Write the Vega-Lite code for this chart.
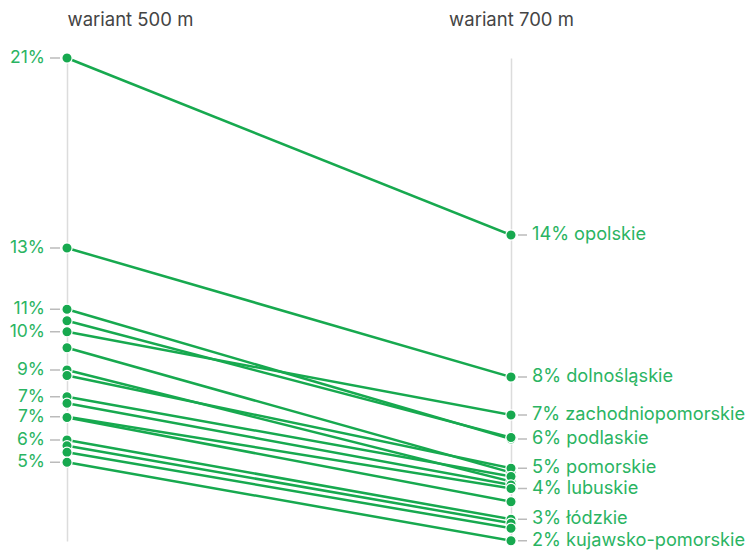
{
  "$schema": "https://vega.github.io/schema/vega-lite/v6.json",
  "width": 444,
  "height": 483,
  "autosize": {"type": "none"},
  "padding": {"left": 67, "top": 58, "right": 237, "bottom": 9},
  "background": "white",
  "config": {"view": {"stroke": null}, "font": "Inter"},
  "data": {
    "values": [
      {"region": "opolskie", "variant": "wariant 500 m", "value": 21.0, "label": "21%"},
      {"region": "opolskie", "variant": "wariant 700 m", "value": 13.92, "label": "14% opolskie"},
      {"region": "dolnośląskie", "variant": "wariant 500 m", "value": 13.4, "label": "13%"},
      {"region": "dolnośląskie", "variant": "wariant 700 m", "value": 8.24, "label": "8% dolnośląskie"},
      {"region": "podlaskie", "variant": "wariant 500 m", "value": 10.95, "label": "11%"},
      {"region": "podlaskie", "variant": "wariant 700 m", "value": 5.76, "label": "6% podlaskie"},
      {"region": "mazowieckie", "variant": "wariant 500 m", "value": 10.49, "label": ""},
      {"region": "mazowieckie", "variant": "wariant 700 m", "value": 5.82, "label": ""},
      {"region": "zachodniopomorskie", "variant": "wariant 500 m", "value": 10.05, "label": "10%"},
      {"region": "zachodniopomorskie", "variant": "wariant 700 m", "value": 6.72, "label": "7% zachodniopomorskie"},
      {"region": "śląskie", "variant": "wariant 500 m", "value": 9.41, "label": ""},
      {"region": "śląskie", "variant": "wariant 700 m", "value": 4.42, "label": ""},
      {"region": "wielkopolskie", "variant": "wariant 500 m", "value": 8.52, "label": "9%"},
      {"region": "wielkopolskie", "variant": "wariant 700 m", "value": 4.06, "label": ""},
      {"region": "pomorskie", "variant": "wariant 500 m", "value": 8.3, "label": ""},
      {"region": "pomorskie", "variant": "wariant 700 m", "value": 4.59, "label": "5% pomorskie"},
      {"region": "małopolskie", "variant": "wariant 500 m", "value": 7.45, "label": "7%"},
      {"region": "małopolskie", "variant": "wariant 700 m", "value": 4.26, "label": ""},
      {"region": "lubelskie", "variant": "wariant 500 m", "value": 7.19, "label": ""},
      {"region": "lubelskie", "variant": "wariant 700 m", "value": 3.92, "label": ""},
      {"region": "lubuskie", "variant": "wariant 500 m", "value": 6.65, "label": "7%"},
      {"region": "lubuskie", "variant": "wariant 700 m", "value": 3.78, "label": "4% lubuskie"},
      {"region": "warmińsko-mazurskie", "variant": "wariant 500 m", "value": 6.62, "label": ""},
      {"region": "warmińsko-mazurskie", "variant": "wariant 700 m", "value": 3.25, "label": ""},
      {"region": "łódzkie", "variant": "wariant 500 m", "value": 5.72, "label": "6%"},
      {"region": "łódzkie", "variant": "wariant 700 m", "value": 2.55, "label": "3% łódzkie"},
      {"region": "podkarpackie", "variant": "wariant 500 m", "value": 5.49, "label": ""},
      {"region": "podkarpackie", "variant": "wariant 700 m", "value": 2.39, "label": ""},
      {"region": "świętokrzyskie", "variant": "wariant 500 m", "value": 5.23, "label": ""},
      {"region": "świętokrzyskie", "variant": "wariant 700 m", "value": 2.19, "label": ""},
      {"region": "kujawsko-pomorskie", "variant": "wariant 500 m", "value": 4.83, "label": "5%"},
      {"region": "kujawsko-pomorskie", "variant": "wariant 700 m", "value": 1.69, "label": "2% kujawsko-pomorskie"}
    ]
  },
  "encoding": {
    "x": {
      "field": "variant",
      "type": "nominal",
      "sort": ["wariant 500 m", "wariant 700 m"],
      "scale": {"type": "point", "padding": 0},
      "axis": {
        "orient": "top",
        "title": null,
        "domain": false,
        "ticks": false,
        "grid": true,
        "gridColor": "#dcdcdc",
        "gridWidth": 1.5,
        "labelAngle": 0,
        "labelFontSize": 18.5,
        "labelColor": "#444444",
        "labelPadding": 29,
        "labelAlign": {"condition": {"test": "datum.value == 'wariant 500 m'", "value": "left"}, "value": "center"}
      }
    },
    "y": {
      "field": "value",
      "type": "quantitative",
      "scale": {"domain": [1.68, 21.0], "zero": false, "nice": false},
      "axis": null
    }
  },
  "layer": [
    {
      "mark": {"type": "line", "color": "#17a94f", "strokeWidth": 2.5},
      "encoding": {"detail": {"field": "region"}}
    },
    {
      "mark": {"type": "circle", "color": "#17a94f", "size": 105, "opacity": 1, "stroke": "white", "strokeWidth": 1.2}
    },
    {
      "transform": [{"filter": "datum.label != '' && datum.variant == 'wariant 500 m'"}],
      "mark": {"type": "rule", "color": "#bbbbbb", "strokeWidth": 1.5, "xOffset": -17, "x2Offset": -7},
      "encoding": {"x2": {"field": "variant"}}
    },
    {
      "transform": [{"filter": "datum.label != '' && datum.variant == 'wariant 700 m'"}],
      "mark": {"type": "rule", "color": "#bbbbbb", "strokeWidth": 1.5, "xOffset": 7, "x2Offset": 16},
      "encoding": {"x2": {"field": "variant"}}
    },
    {
      "transform": [{"filter": "datum.label != '' && datum.variant == 'wariant 500 m'"}],
      "mark": {"type": "text", "align": "right", "baseline": "middle", "dx": -22, "fontSize": 17.5, "color": "#2ab462"},
      "encoding": {"text": {"field": "label"}}
    },
    {
      "transform": [{"filter": "datum.label != '' && datum.variant == 'wariant 700 m'"}],
      "mark": {"type": "text", "align": "left", "baseline": "middle", "dx": 21, "fontSize": 18.2, "color": "#2ab462"},
      "encoding": {"text": {"field": "label"}}
    }
  ]
}
